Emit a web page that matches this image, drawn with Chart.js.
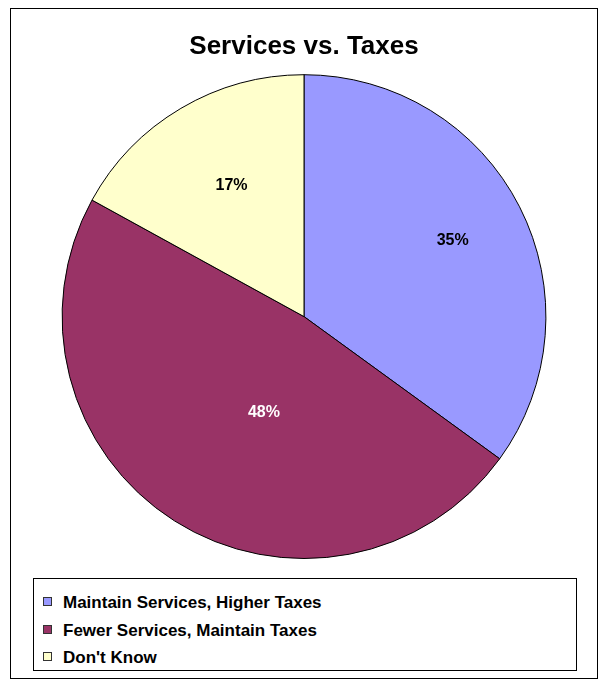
<!DOCTYPE html>
<html>
<head>
<meta charset="utf-8">
<script src="https://cdn.jsdelivr.net/npm/chart.js@4/dist/chart.umd.min.js"></script>
<style>
  body { margin: 0; background: #fff; font-family: "Liberation Sans", Arial, sans-serif; }
  #frame { position: absolute; left: 10px; top: 8px; width: 586px; height: 669px; border: 1px solid #000; }
  #pie { position: absolute; left: 0; top: 0; }
  #legend { position: absolute; left: 22px; top: 569px; width: 542px; height: 91px; border: 1px solid #000; }
  .item { position: absolute; left: 9px; font-weight: bold; font-size: 17px; color: #000; line-height: 20px; white-space: nowrap; }
  .sw { display: inline-block; width: 7px; height: 7px; border: 1px solid #333; margin-right: 11px; vertical-align: 2px; }
</style>
</head>
<body>
<div id="frame">
  <canvas id="pie" width="586" height="562"></canvas>
  <div id="legend"></div>
</div>
<script>
var labels = ["Maintain Services, Higher Taxes", "Fewer Services, Maintain Taxes", "Don't Know"];
var values = [35, 48, 17];
var colors = ["#9999FF", "#993366", "#FFFFCC"];
var labelColors = ["#000", "#fff", "#000"];

// pct labels sit at different depths in the original, like Excel does it
var labelDepth = [0.69, 0.43, 0.62];
var labelTurn = [0, -0.17, 0.03];

var pctLabels = {
  id: "pctLabels",
  afterDatasetsDraw: function (chart) {
    var ctx = chart.ctx;
    var total = values.reduce(function (a, b) { return a + b; }, 0);
    chart.getDatasetMeta(0).data.forEach(function (arc, i) {
      var mid = (arc.startAngle + arc.endAngle) / 2 + labelTurn[i];
      var r = arc.outerRadius * labelDepth[i];
      ctx.save();
      ctx.font = "bold 16px 'Liberation Sans', Arial, sans-serif";
      ctx.fillStyle = labelColors[i];
      ctx.textAlign = "center";
      ctx.textBaseline = "middle";
      ctx.fillText(Math.round(values[i] / total * 100) + "%", arc.x + Math.cos(mid) * r, arc.y + Math.sin(mid) * r);
      ctx.restore();
    });
  }
};

new Chart("pie", {
  type: "pie",
  data: {
    labels: labels,
    datasets: [{
      data: values,
      backgroundColor: colors,
      borderColor: "#000",
      borderWidth: 1,
      hoverOffset: 0
    }]
  },
  options: {
    responsive: false,
    animation: false,
    layout: { padding: { bottom: 12 } },
    plugins: {
      legend: { display: false },
      tooltip: { enabled: false },
      title: {
        display: true,
        text: "Services vs. Taxes",
        color: "#000",
        font: { family: "'Liberation Sans', Arial, sans-serif", size: 26, weight: "bold" },
        padding: { top: 22, bottom: 12 }
      }
    }
  },
  plugins: [pctLabels]
});

var legend = document.getElementById("legend");
labels.forEach(function (name, i) {
  var d = document.createElement("div");
  d.className = "item";
  d.style.top = (14 + i * 27.5) + "px";
  d.innerHTML = '<span class="sw" style="background:' + colors[i] + '"></span>';
  d.appendChild(document.createTextNode(name));
  legend.appendChild(d);
});
</script>
</body>
</html>
